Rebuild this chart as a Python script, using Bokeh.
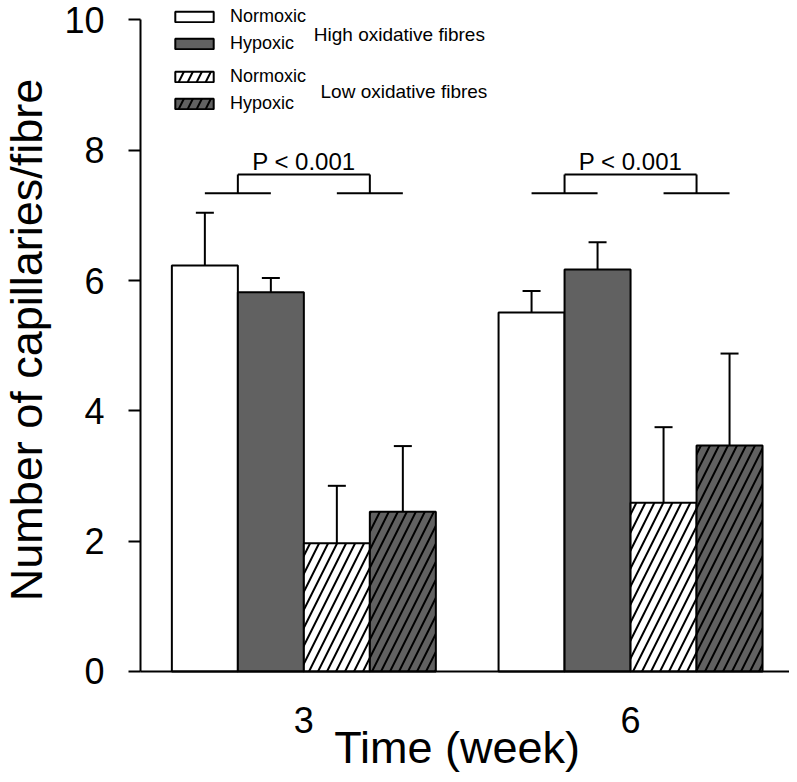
import math
from bokeh.plotting import figure
from bokeh.models import (Range1d, FixedTicker, Whisker, TeeHead, ColumnDataSource,
                          Legend, LegendItem, Label)
from bokeh.core.properties import value
from bokeh.embed import file_html
from bokeh.resources import INLINE

# ---------------- data ----------------
weeks = ["3", "6"]
group_pos = [1, 2]
series_names = ["Normoxic", "Hypoxic", "Normoxic", "Hypoxic"]
group_names = ["High oxidative fibres", "Low oxidative fibres"]
high_normoxic = [6.23, 5.51]
high_hypoxic = [5.82, 6.17]
low_normoxic = [1.97, 2.59]
low_hypoxic = [2.45, 3.47]
high_normoxic_err = [0.81, 0.33]
high_hypoxic_err = [0.22, 0.42]
low_normoxic_err = [0.88, 1.16]
low_hypoxic_err = [1.01, 1.41]
y_ticks = [0, 2, 4, 6, 8, 10]
p_text = "P < 0.001"
bracket_low = 7.34
bracket_high = 7.63
x_title = "Time (week)"
y_title = "Number of capillaries/fibre"

values = [high_normoxic, high_hypoxic, low_normoxic, low_hypoxic]
errors = [high_normoxic_err, high_hypoxic_err, low_normoxic_err, low_hypoxic_err]

# ---------------- styles ----------------
FONT = "Liberation Sans"
DARK = "#616161"
fills = ["white", DARK, "white", DARK]
hatched = [False, False, True, True]
bw = 0.202
offsets = [-1.5 * bw, -0.5 * bw, 0.5 * bw, 1.5 * bw]
X0, X1 = 0.5, 2.4865          # axis extent along x
Y0, Y1 = 0, 10                # axis extent along y

p = figure(width=789, height=774, output_backend="svg", toolbar_location=None,
           x_range=Range1d(0.0715, X1), y_range=Range1d(-1.581, 10.299),
           min_border_left=0, min_border_right=0, min_border_top=0,
           min_border_bottom=0)
p.outline_line_color = None
p.xgrid.visible = False
p.ygrid.visible = False
p.background_fill_color = "white"

renderers = []
for vals, errs, fc, h, off in zip(values, errors, fills, hatched, offsets):
    xs = [g + off for g in group_pos]
    src = ColumnDataSource(dict(x=xs, top=vals,
                                upper=[v + e for v, e in zip(vals, errs)]))
    kw = {}
    if h:
        kw = dict(hatch_pattern="/", hatch_color="black", hatch_weight=2,
                  hatch_scale=18)
    r = p.vbar(x="x", top="top", width=bw, bottom=0, source=src, fill_color=fc,
               line_color="black", line_width=2, **kw)
    renderers.append(r)
    w = Whisker(base="x", lower="top", upper="upper", source=src,
                line_color="black", line_width=2, lower_head=None,
                upper_head=TeeHead(size=18, line_color="black", line_width=2),
                level="glyph")
    p.add_layout(w)

# significance brackets
x0s, y0s, x1s, y1s = [], [], [], []
for g in group_pos:
    lb, rb = g - bw, g + bw
    for b in (lb, rb):
        x0s += [b - bw / 2, b]
        y0s += [bracket_low, bracket_low]
        x1s += [b + bw / 2, b]
        y1s += [bracket_low, bracket_high]
    x0s.append(lb); y0s.append(bracket_high); x1s.append(rb); y1s.append(bracket_high)
p.segment(x0=x0s, y0=y0s, x1=x1s, y1=y1s, line_color="black", line_width=2)
p.text(x=group_pos, y=[bracket_high + 0.2] * len(group_pos), text=[p_text] * len(group_pos),
       text_align="center", text_baseline="middle", text_font=value(FONT),
       text_font_size="24px", text_color="black")

# legends
def make_legend(items, loc):
    leg = Legend(items=items, location=loc, orientation="vertical",
                 glyph_width=48, glyph_height=13, label_standoff=12,
                 label_height=20, spacing=6, padding=0, margin=0,
                 border_line_color=None, background_fill_alpha=0,
                 label_text_font=FONT, label_text_font_size="18px",
                 label_text_color="black")
    p.add_layout(leg, "center")

make_legend([LegendItem(label=series_names[0], renderers=[renderers[0]]),
             LegendItem(label=series_names[1], renderers=[renderers[1]])], (170, 720))
make_legend([LegendItem(label=series_names[2], renderers=[renderers[2]]),
             LegendItem(label=series_names[3], renderers=[renderers[3]])], (170, 660))

p.add_layout(Label(x=1.0305, y=9.78, text=group_names[0], text_baseline="middle",
                   text_font=FONT, text_font_size="19px", text_color="black"))
p.add_layout(Label(x=1.051, y=8.90, text=group_names[1], text_baseline="middle",
                   text_font=FONT, text_font_size="19px", text_color="black"))

# axes
yax = p.yaxis[0]
yax.fixed_location = X0
yax.ticker = FixedTicker(ticks=y_ticks)
yax.bounds = (Y0, Y1)
yax.axis_line_width = 2
yax.axis_line_color = "black"
yax.major_tick_line_width = 2
yax.major_tick_line_color = "black"
yax.major_tick_out = 12
yax.major_tick_in = 0
yax.minor_tick_line_color = None
yax.major_label_standoff = 24
yax.major_label_text_font = FONT
yax.major_label_text_font_size = "36px"
yax.major_label_text_color = "black"

xax = p.xaxis[0]
xax.fixed_location = Y0
xax.bounds = (X0, X1)
xax.ticker = FixedTicker(ticks=group_pos)
xax.major_label_overrides = {g: w for g, w in zip(group_pos, weeks)}
xax.axis_line_width = 2
xax.axis_line_color = "black"
xax.major_tick_line_color = None
xax.major_tick_out = 0
xax.major_tick_in = 0
xax.minor_tick_line_color = None
xax.major_label_standoff = 36
xax.major_label_text_font = FONT
xax.major_label_text_font_size = "36px"
xax.major_label_text_color = "black"

# axis titles
p.text(x=[1.469], y=[-1.17], text=[x_title], text_align="center",
       text_baseline="middle", text_font=value(FONT), text_font_size="45px",
       text_color="black")
p.text(x=[0.1526], y=[5.088], text=[y_title], angle=math.pi / 2, text_align="center",
       text_baseline="middle", text_font=value(FONT), text_font_size="45px",
       text_color="black")

open("out.html", "w").write(file_html(p, INLINE))
